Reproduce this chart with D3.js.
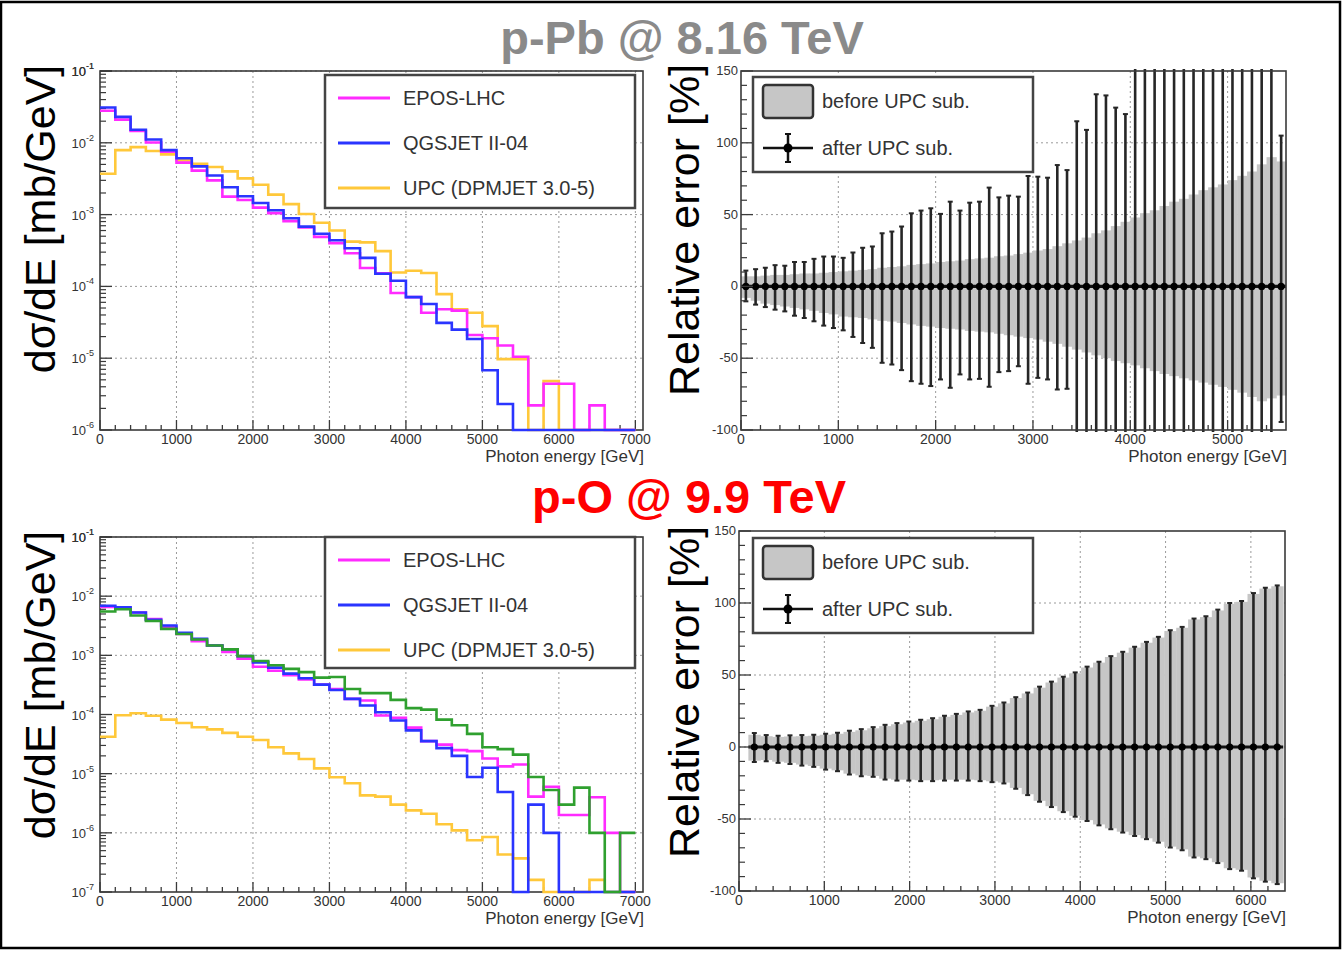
<!DOCTYPE html>
<html>
<head>
  <meta charset="UTF-8" />
  <title>Photon energy spectra and relative errors</title>
  <script src="https://cdn.jsdelivr.net/npm/d3@7"></script>
  <style>
    body {
      margin: 0;
      background: #fff;
      font-family: 'Liberation Sans', Arial, sans-serif;
    }
  </style>
</head>
<body>
  <svg id="chart" width="1344" height="953"></svg>

<script>
  // Spectra: 200 GeV bins from 0 to 7000 GeV
  const specBinWidth = 200
  const specBinCount = 35

  // p-Pb @ 8.16 TeV, dsigma/dE [mb/GeV]
  const pPbEpos = [0.028, 0.021, 0.0146, 0.0101, 0.0075, 0.0053, 0.0041, 0.003, 0.00178, 0.0016, 0.00125, 0.00105, 0.00081, 0.00066, 0.00049, 0.0004, 0.00029, 0.00018, 0.000152, 0.000081, 0.000071, 0.000043, 0.000048, 0.000046, 0.000021, 0.000019, 0.000015, 0.0000105, 0.0000022, 0.0000044, 0.0000044, 0, 0.0000022, 0, 0]
  const pPbQgsjet = [0.031, 0.023, 0.0152, 0.0111, 0.0079, 0.0061, 0.0047, 0.0035, 0.0024, 0.0018, 0.00145, 0.00115, 0.00089, 0.00068, 0.00054, 0.00044, 0.00034, 0.00025, 0.00015, 0.00012, 0.000071, 0.000057, 0.000031, 0.000025, 0.0000185, 0.0000068, 0.0000023, 0, 0, 0, 0, 0, 0, 0, 0]
  const pPbUpc = [0.0037, 0.0079, 0.0087, 0.0077, 0.0069, 0.0057, 0.0051, 0.0046, 0.004, 0.0032, 0.0026, 0.0019, 0.0014, 0.00102, 0.00077, 0.0006, 0.00042, 0.00041, 0.00031, 0.000156, 0.000165, 0.000154, 0.000078, 0.000048, 0.000043, 0.000028, 0.0000097, 0.0000097, 0, 0.0000048, 0, 0, 0, 0, 0]

  // p-O @ 9.9 TeV
  const pOEpos = [0.0066, 0.0063, 0.0053, 0.0041, 0.003, 0.0023, 0.00173, 0.00147, 0.00114, 0.00088, 0.00064, 0.00055, 0.00046, 0.00039, 0.00032, 0.00027, 0.000184, 0.000172, 0.000096, 0.000088, 0.00006, 0.0000355, 0.000031, 0.000025, 0.000024, 0.000018, 0.0000133, 0.0000143, 0.0000041, 0.000006, 0.000002, 0.000002, 0.000004, 0.000001, 0]
  const pOQgsjet = [0.0069, 0.0065, 0.0053, 0.004, 0.0032, 0.0024, 0.0019, 0.00147, 0.00126, 0.00097, 0.00076, 0.00062, 0.00049, 0.00041, 0.00032, 0.00026, 0.000184, 0.000142, 0.000109, 0.000079, 0.000054, 0.0000355, 0.000027, 0.00002, 0.0000088, 0.0000126, 0.0000049, 0, 0.000003, 0.000001, 0, 0, 0, 0, 0]
  const pOUpc = [0.000042, 0.000097, 0.000105, 0.000095, 0.000082, 0.000072, 0.000061, 0.000056, 0.000049, 0.000042, 0.000037, 0.000028, 0.000022, 0.0000177, 0.0000123, 0.0000087, 0.0000069, 0.0000043, 0.0000041, 0.000003, 0.0000024, 0.0000021, 0.0000014, 0.0000011, 0.00000075, 0.00000085, 0.00000043, 0.00000037, 0.00000016, 0, 0, 0, 0.00000016, 0, 0]
  const pOSum = [0.0055, 0.006, 0.0047, 0.0038, 0.0028, 0.0023, 0.00185, 0.00147, 0.00126, 0.00097, 0.0008, 0.00068, 0.00059, 0.00052, 0.00042, 0.00043, 0.00027, 0.00023, 0.00023, 0.000177, 0.000128, 0.000121, 0.000082, 0.000066, 0.000047, 0.000028, 0.000026, 0.000021, 0.0000088, 0.0000053, 0.000003, 0.0000058, 0.000001, 0, 0.000001]

  const legendNames = ['EPOS-LHC', 'QGSJET II-04', 'UPC (DPMJET 3.0-5)']

  // Relative errors [%], p-Pb: 100 GeV bins from 0 to 5600 GeV
  const pPbErrStart = 0
  const pPbErrWidth = 100
  const pPbBandUp = [7, 7, 7.5, 8, 8, 8.5, 9, 9, 9.5, 10, 10.5, 11, 11.5, 12, 13, 13.5, 14, 15, 15.5, 16, 17, 17.5, 18, 19, 19.5, 20, 21, 21.5, 22.5, 23.5, 25, 26, 28, 30, 32, 34, 37, 39, 42, 45, 48, 51, 53, 56, 59, 61, 64, 67, 69, 71, 74, 77, 80, 85, 90, 87]
  const pPbBandLo = [-8, -10, -12, -13, -14, -15, -16, -17, -18.5, -19.5, -21, -21.5, -22, -23, -24, -24.5, -25.5, -26.5, -27.5, -28, -29, -29.5, -30, -31, -31.5, -32, -33, -34, -35, -36, -37, -38.5, -40, -42, -44, -46, -48, -50, -52, -53.5, -55, -57, -59, -61, -62.5, -64, -65.5, -67, -68.5, -70, -72, -74, -77, -80, -78, -76]
  const pPbErrUp = [11, 12, 13, 14.8, 14.4, 17, 17, 19.2, 20.8, 20.8, 19.9, 23.6, 26.9, 27.8, 37, 38.2, 41.7, 50.9, 52.8, 54.4, 50.5, 59, 52.8, 58.3, 59, 68.8, 62, 63.2, 62.5, 76.9, 76.4, 75.7, 84.5, 81, 115, 109, 133.8, 133, 124.5, 120, 200, 200, 200, 200, 200, 200, 200, 200, 200, 200, 200, 200, 200, 200, 200, 105]
  const pPbErrLo = [-10.4, -12.7, -14.4, -16.2, -17.4, -20.4, -22, -24.3, -27.3, -29, -30.6, -35.2, -39.4, -42.8, -53.2, -54.4, -58.3, -66, -67.8, -69.4, -64.8, -70.6, -61.3, -64.8, -64.4, -69.9, -59.7, -59, -55.6, -67.8, -63.7, -64.8, -71.8, -71.3, -200, -200, -200, -200, -200, -200, -200, -200, -200, -200, -200, -200, -200, -200, -200, -200, -200, -200, -200, -200, -200, -94.4]

  // Relative errors [%], p-O: 45 bins of ~139 GeV starting at 110 GeV
  const pOErrStart = 110
  const pOErrWidth = 139.3
  const pOBandUp = [8.5, 7.5, 7, 7.3, 7.5, 7.8, 8.5, 9.2, 10.5, 11.6, 13, 14.5, 15.8, 17, 18.2, 19.3, 21, 22.3, 24, 25.2, 28, 30.3, 34, 37.2, 41.2, 44.8, 48.2, 51.2, 55.2, 58.6, 62.5, 65.5, 69, 72.4, 76, 80.5, 82.8, 88.6, 90.2, 94.8, 99.4, 100.8, 106.3, 110, 111.6]
  const pOBandLo = [-9.5, -9, -10.2, -11, -12.2, -13.2, -15, -16.2, -18.5, -19.7, -20.1, -22, -22.7, -22.7, -23.1, -23.1, -22.7, -22.7, -22.7, -23.1, -23.8, -24.7, -28.4, -32.8, -37.4, -41.1, -44.6, -47.8, -50.8, -53.8, -56.5, -58.8, -61.2, -63.4, -65.8, -69.2, -71.1, -76.1, -77.3, -80, -84.2, -85.3, -90.6, -92.9, -94.6]
  const pOErrUp = [9.7, 8.3, 7.8, 8.1, 8.3, 8.5, 9.2, 9.9, 11.3, 12.4, 13.8, 15.4, 16.6, 17.7, 18.9, 20, 21.7, 23, 24.7, 25.8, 28.6, 30.9, 34.6, 37.8, 41.9, 45.4, 48.8, 51.8, 55.8, 59.2, 63.1, 66.1, 69.6, 73, 76.5, 81.1, 83.4, 89.2, 90.8, 95.4, 100, 101.4, 106.9, 110.6, 112.2]
  const pOErrLo = [-10.4, -9.9, -11, -11.8, -12.9, -13.8, -15.7, -16.8, -19.1, -20.3, -20.7, -22.6, -23.3, -23.3, -23.7, -23.7, -23.3, -23.3, -23.3, -23.7, -24.4, -25.3, -29, -33.4, -38, -41.7, -45.2, -48.4, -51.4, -54.4, -57.1, -59.4, -61.8, -64, -66.4, -69.8, -71.7, -76.7, -77.9, -80.6, -84.8, -85.9, -91.2, -93.5, -95.2]

  const colors = {
    epos: '#ff2bff',
    qgs: '#2a35ff',
    upc: '#ffc83a',
    sum: '#2fa02f',
    band: '#c6c6c6',
    frame: '#3a3a3a',
    grid: '#9a9a9a',
    text: '#333',
  }

  const svg = d3.select('#chart')
  let clipId = 0

  // outer frame of the slide
  svg.append('rect')
    .attr('x', 1).attr('y', 2)
    .attr('width', 1339).attr('height', 946)
    .attr('fill', 'none').attr('stroke', '#000').attr('stroke-width', 2.5)

  // big titles
  svg.append('text')
    .attr('x', 682).attr('y', 54)
    .attr('text-anchor', 'middle')
    .attr('font-size', 47).attr('font-weight', 'bold')
    .attr('fill', '#8a8a8a')
    .text('p-Pb @ 8.16 TeV')
  svg.append('text')
    .attr('x', 689).attr('y', 513)
    .attr('text-anchor', 'middle')
    .attr('font-size', 47).attr('font-weight', 'bold')
    .attr('fill', '#ff0000')
    .text('p-O @ 9.9 TeV')

  function yTitle(text, x, y) {
    svg.append('text')
      .attr('transform', `translate(${x},${y}) rotate(-90)`)
      .attr('text-anchor', 'middle')
      .attr('font-size', 43)
      .attr('fill', '#000')
      .text(text)
  }
  yTitle('dσ/dE [mb/GeV]', 55, 219)
  yTitle('dσ/dE [mb/GeV]', 55, 685)
  yTitle('Relative error [%]', 699, 230)
  yTitle('Relative error [%]', 699, 692)

  function makeClip(l, t, r, b) {
    const id = 'clip' + clipId++
    svg.append('clipPath').attr('id', id)
      .append('rect')
      .attr('x', l - 2).attr('y', t - 2)
      .attr('width', r - l + 4).attr('height', b - t + 4)
    return `url(#${id})`
  }

  function xAxisBottom(g, x, p, xMax) {
    const majors = d3.range(0, xMax + 1, 1000)
    const minors = d3.range(0, p.xDomainMax, 200).filter((v) => v % 1000 !== 0)
    g.selectAll(null).data(minors).join('line')
      .attr('x1', (d) => x(d)).attr('x2', (d) => x(d))
      .attr('y1', p.bottom).attr('y2', p.bottom - 5)
      .attr('stroke', colors.frame).attr('stroke-width', 1.3)
    g.selectAll(null).data(majors).join('line')
      .attr('x1', (d) => x(d)).attr('x2', (d) => x(d))
      .attr('y1', p.bottom).attr('y2', p.bottom - 10)
      .attr('stroke', colors.frame).attr('stroke-width', 1.3)
    g.selectAll(null).data(majors).join('text')
      .attr('x', (d) => x(d)).attr('y', p.bottom + 14)
      .attr('text-anchor', 'middle')
      .attr('font-size', 14).attr('fill', colors.text)
      .text((d) => d)
    g.append('text')
      .attr('x', p.right + 1).attr('y', p.bottom + 32)
      .attr('text-anchor', 'end')
      .attr('font-size', 17).attr('fill', colors.text)
      .text('Photon energy [GeV]')
  }

  function drawFrame(g, p) {
    g.append('rect')
      .attr('x', p.left).attr('y', p.top)
      .attr('width', p.right - p.left).attr('height', p.bottom - p.top)
      .attr('fill', 'none').attr('stroke', colors.frame).attr('stroke-width', 1.6)
  }

  function spectrumPanel(p) {
    const g = svg.append('g')
    const x = d3.scaleLinear().domain([0, p.xDomainMax]).range([p.left, p.right])
    const y = d3.scaleLog().domain([p.yMin, 0.1]).range([p.bottom, p.top])
    const eMin = Math.round(Math.log10(p.yMin))
    const decades = d3.range(eMin, 0).map((e) => Math.pow(10, e)).concat([0.1])
    const minors = []
    d3.range(eMin, -1).forEach((e) => {
      d3.range(2, 10).forEach((m) => minors.push(m * Math.pow(10, e)))
    })

    // dotted grid
    g.selectAll(null).data(d3.range(1000, 7001, 1000)).join('line')
      .attr('x1', (d) => x(d)).attr('x2', (d) => x(d))
      .attr('y1', p.top).attr('y2', p.bottom)
      .attr('stroke', colors.grid).attr('stroke-dasharray', '2,3')
    g.selectAll(null).data(decades.slice(1, -1)).join('line')
      .attr('x1', p.left).attr('x2', p.right)
      .attr('y1', (d) => y(d)).attr('y2', (d) => y(d))
      .attr('stroke', colors.grid).attr('stroke-dasharray', '2,3')

    drawFrame(g, p)

    // y ticks
    g.selectAll(null).data(minors).join('line')
      .attr('x1', p.left).attr('x2', p.left + 6)
      .attr('y1', (d) => y(d)).attr('y2', (d) => y(d))
      .attr('stroke', colors.frame).attr('stroke-width', 1.2)
    g.selectAll(null).data(decades).join('line')
      .attr('x1', p.left).attr('x2', p.left + 12)
      .attr('y1', (d) => y(d)).attr('y2', (d) => y(d))
      .attr('stroke', colors.frame).attr('stroke-width', 1.3)
    const lab = g.selectAll(null).data(decades).join('text')
      .attr('x', p.left - 6).attr('y', (d) => y(d) + 5)
      .attr('text-anchor', 'end')
      .attr('font-size', 13).attr('fill', colors.text)
    lab.append('tspan').text('10')
    lab.append('tspan')
      .attr('dy', -7).attr('font-size', 9)
      .text((d) => '-' + Math.round(-Math.log10(d)))

    xAxisBottom(g, x, p, 7000)

    // histograms (drawn on top of the frame, zero bins sit on the bottom edge)
    const edges = d3.range(specBinCount + 1).map((i) => i * specBinWidth)
    const line = d3.line()
      .curve(d3.curveStepAfter)
      .x((d) => x(d[0]))
      .y((d) => y(Math.max(d[1], p.yMin)))
    const hg = g.append('g').attr('clip-path', makeClip(p.left, p.top, p.right, p.bottom))
    p.series.forEach((s) => {
      const pts = s.values.map((v, i) => [edges[i], v])
      pts.push([edges[specBinCount], s.values[specBinCount - 1]])
      hg.append('path')
        .attr('d', line(pts))
        .attr('fill', 'none')
        .attr('stroke', s.color)
        .attr('stroke-width', 2.6)
        .attr('stroke-linejoin', 'miter')
    })

    // legend
    const L = p.legend
    g.append('rect')
      .attr('x', L.x).attr('y', L.y).attr('width', L.w).attr('height', L.h)
      .attr('fill', '#fff').attr('stroke', '#444').attr('stroke-width', 2.5)
    const items = [colors.epos, colors.qgs, colors.upc]
    items.forEach((c, i) => {
      const cy = L.y + 23 + i * 45
      g.append('line')
        .attr('x1', L.x + 13).attr('x2', L.x + 65)
        .attr('y1', cy).attr('y2', cy)
        .attr('stroke', c).attr('stroke-width', 3)
      g.append('text')
        .attr('x', L.x + 78).attr('y', cy + 7)
        .attr('font-size', 20).attr('fill', colors.text)
        .text(legendNames[i])
    })
  }

  function errorPanel(p) {
    const g = svg.append('g')
    const x = d3.scaleLinear().domain([0, p.xDomainMax]).range([p.left, p.right])
    const y = d3.scaleLinear().domain([-100, 150]).range([p.bottom, p.top])
    const xMax = Math.floor(p.xDomainMax / 1000) * 1000

    // dotted grid
    g.selectAll(null).data(d3.range(1000, xMax + 1, 1000)).join('line')
      .attr('x1', (d) => x(d)).attr('x2', (d) => x(d))
      .attr('y1', p.top).attr('y2', p.bottom)
      .attr('stroke', colors.grid).attr('stroke-dasharray', '2,3')
    g.selectAll(null).data([-50, 0, 50, 100]).join('line')
      .attr('x1', p.left).attr('x2', p.right)
      .attr('y1', (d) => y(d)).attr('y2', (d) => y(d))
      .attr('stroke', colors.grid).attr('stroke-dasharray', '2,3')

    const cg = g.append('g').attr('clip-path', makeClip(p.left, p.top, p.right, p.bottom))
    const bins = p.up.map((u, i) => ({
      lo: p.start + i * p.width,
      hi: p.start + (i + 1) * p.width,
      mid: p.start + (i + 0.5) * p.width,
      bandUp: p.bandUp[i],
      bandLo: p.bandLo[i],
      up: u,
      down: p.lo[i],
    }))

    // "before UPC sub." band
    cg.selectAll(null).data(bins).join('rect')
      .attr('x', (d) => x(d.lo))
      .attr('width', (d) => x(d.hi) - x(d.lo) + 0.5)
      .attr('y', (d) => y(d.bandUp))
      .attr('height', (d) => y(d.bandLo) - y(d.bandUp))
      .attr('fill', colors.band)

    // "after UPC sub." points with error bars
    cg.append('line')
      .attr('x1', x(bins[0].lo)).attr('x2', x(bins[bins.length - 1].hi))
      .attr('y1', y(0)).attr('y2', y(0))
      .attr('stroke', '#111').attr('stroke-width', 3.2)
    cg.selectAll(null).data(bins).join('line')
      .attr('x1', (d) => x(d.mid)).attr('x2', (d) => x(d.mid))
      .attr('y1', (d) => y(d.up)).attr('y2', (d) => y(d.down))
      .attr('stroke', '#262626').attr('stroke-width', 2.6)
    const caps = []
    bins.forEach((d) => {
      if (d.up < 150) caps.push([d.mid, d.up])
      if (d.down > -100) caps.push([d.mid, d.down])
    })
    cg.selectAll(null).data(caps).join('line')
      .attr('x1', (d) => x(d[0]) - 2.5).attr('x2', (d) => x(d[0]) + 2.5)
      .attr('y1', (d) => y(d[1])).attr('y2', (d) => y(d[1]))
      .attr('stroke', '#262626').attr('stroke-width', 2)
    cg.selectAll(null).data(bins).join('circle')
      .attr('cx', (d) => x(d.mid)).attr('cy', y(0))
      .attr('r', 3.6).attr('fill', '#000')

    drawFrame(g, p)

    // y ticks
    g.selectAll(null).data(d3.range(-90, 150, 10).filter((v) => v % 50 !== 0)).join('line')
      .attr('x1', p.left).attr('x2', p.left + 6)
      .attr('y1', (d) => y(d)).attr('y2', (d) => y(d))
      .attr('stroke', colors.frame).attr('stroke-width', 1.2)
    const yMaj = [-100, -50, 0, 50, 100, 150]
    g.selectAll(null).data(yMaj).join('line')
      .attr('x1', p.left).attr('x2', p.left + 12)
      .attr('y1', (d) => y(d)).attr('y2', (d) => y(d))
      .attr('stroke', colors.frame).attr('stroke-width', 1.3)
    g.selectAll(null).data(yMaj).join('text')
      .attr('x', p.left - 3).attr('y', (d) => y(d) + 4)
      .attr('text-anchor', 'end')
      .attr('font-size', 13).attr('fill', colors.text)
      .text((d) => d)

    xAxisBottom(g, x, p, xMax)

    // legend
    const L = p.legend
    g.append('rect')
      .attr('x', L.x).attr('y', L.y).attr('width', 280).attr('height', 95)
      .attr('fill', '#fff').attr('stroke', '#444').attr('stroke-width', 2.5)
    g.append('rect')
      .attr('x', L.x + 10).attr('y', L.y + 8).attr('width', 50).attr('height', 33)
      .attr('rx', 3)
      .attr('fill', colors.band).attr('stroke', '#333').attr('stroke-width', 2.5)
    g.append('text')
      .attr('x', L.x + 69).attr('y', L.y + 31)
      .attr('font-size', 20).attr('fill', colors.text)
      .text('before UPC sub.')
    const my = L.y + 71
    const mx = L.x + 35
    g.append('line').attr('x1', L.x + 10).attr('x2', L.x + 60)
      .attr('y1', my).attr('y2', my).attr('stroke', '#111').attr('stroke-width', 2.5)
    g.append('line').attr('x1', mx).attr('x2', mx)
      .attr('y1', my - 14).attr('y2', my + 14).attr('stroke', '#111').attr('stroke-width', 2.5)
    g.selectAll(null).data([my - 14, my + 14]).join('line')
      .attr('x1', mx - 3).attr('x2', mx + 3)
      .attr('y1', (d) => d).attr('y2', (d) => d)
      .attr('stroke', '#111').attr('stroke-width', 2)
    g.append('circle').attr('cx', mx).attr('cy', my).attr('r', 4.5).attr('fill', '#000')
    g.append('text')
      .attr('x', L.x + 69).attr('y', my + 7)
      .attr('font-size', 20).attr('fill', colors.text)
      .text('after UPC sub.')
  }

  spectrumPanel({
    left: 100, right: 643, top: 71, bottom: 430,
    xDomainMax: 7100, yMin: 1e-6,
    series: [
      { values: pPbUpc, color: colors.upc },
      { values: pPbEpos, color: colors.epos },
      { values: pPbQgsjet, color: colors.qgs },
    ],
    legend: { x: 325, y: 75, w: 310, h: 133 },
  })

  spectrumPanel({
    left: 100, right: 643, top: 537, bottom: 892,
    xDomainMax: 7100, yMin: 1e-7,
    series: [
      { values: pOUpc, color: colors.upc },
      { values: pOEpos, color: colors.epos },
      { values: pOQgsjet, color: colors.qgs },
      { values: pOSum, color: colors.sum },
    ],
    legend: { x: 325, y: 537, w: 310, h: 131 },
  })

  errorPanel({
    left: 741, right: 1286, top: 71, bottom: 430,
    xDomainMax: 5600,
    start: pPbErrStart, width: pPbErrWidth,
    bandUp: pPbBandUp, bandLo: pPbBandLo,
    up: pPbErrUp, lo: pPbErrLo,
    legend: { x: 753, y: 77 },
  })

  errorPanel({
    left: 739, right: 1285, top: 531, bottom: 891,
    xDomainMax: 6400,
    start: pOErrStart, width: pOErrWidth,
    bandUp: pOBandUp, bandLo: pOBandLo,
    up: pOErrUp, lo: pOErrLo,
    legend: { x: 753, y: 538 },
  })
</script>
</body>
</html>
